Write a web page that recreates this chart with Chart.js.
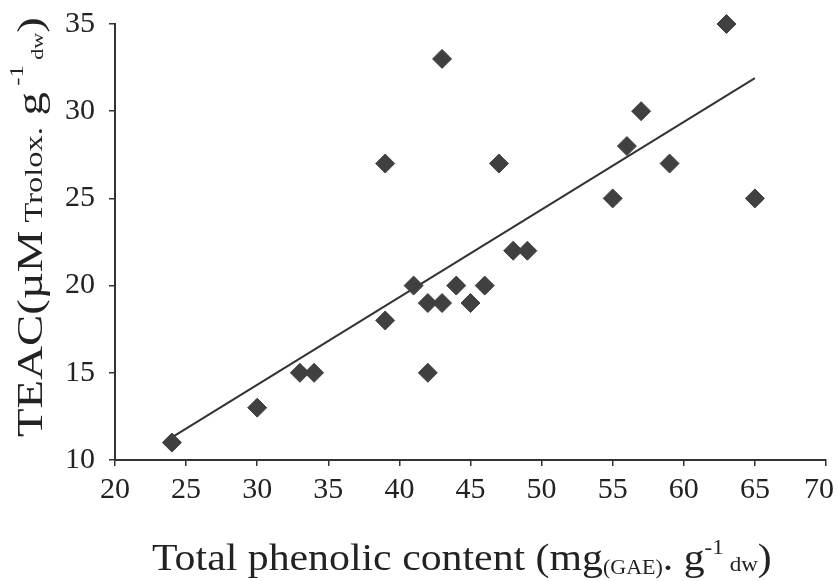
<!DOCTYPE html>
<html>
<head>
<meta charset="utf-8">
<script src="https://cdn.jsdelivr.net/npm/chart.js@4/dist/chart.umd.min.js"></script>
<style>
  html, body { margin: 0; padding: 0; background: #fff; }
  #wrap { width: 838px; height: 581px; position: relative; }
</style>
</head>
<body>
<div id="wrap"><canvas id="c" width="838" height="581"></canvas></div>
<script>
// Total phenolic content (mg GAE / g dw) for each sample
const phenolic = [24, 30, 33, 34, 39, 39, 41, 42, 42, 43, 43, 44, 45, 46, 47, 48, 49, 55, 56, 57, 59, 63, 65];
// Antioxidant capacity, TEAC (µM Trolox / g dw) for the same samples
const teac = [11, 13, 15, 15, 18, 27, 20, 19, 15, 19, 33, 20, 19, 20, 27, 22, 22, 25, 28, 30, 27, 35, 25];
// Linear trend line end points
const trendX = [24, 65];
const trendY = [11.3, 31.9];
// Axis ticks
const xTicks = [20, 25, 30, 35, 40, 45, 50, 55, 60, 65, 70];
const yTicks = [10, 15, 20, 25, 30, 35];

const SERIF = '"Liberation Serif", "Times New Roman", serif';
const INK = '#222';
const AXIS = '#333';
const MARK = '#404040';

// Axis titles with sub- and superscripts
const xTitle = [
  { t: 'Total phenolic content (mg', size: 38, dy: 0 },
  { t: '(GAE)', size: 20, dy: 4 },
  { t: '. g', size: 38, dy: 0 },
  { t: '-1', size: 21, dy: -16 },
  { t: ' ', size: 21, dy: 0 },
  { t: 'dw', size: 21, dy: 1 },
  { t: ')', size: 38, dy: 0 }
];
const yTitle = [
  { t: 'TEAC(\u00B5M', size: 36, dy: 0 },
  { t: ' Trolox.', size: 25, dy: 0 },
  { t: ' g', size: 36, dy: 0 },
  { t: ' -1', size: 19, dy: -19 },
  { t: ' dw', size: 17, dy: 1 },
  { t: ')', size: 36, dy: 0 }
];

// Draws a run of text segments; sx stretches the run along its length
function drawRich(ctx, segs, x, y, sx) {
  ctx.save();
  ctx.translate(x, y);
  ctx.scale(sx, 1);
  let cx = 0;
  for (const s of segs) {
    ctx.font = s.size + 'px ' + SERIF;
    ctx.fillText(s.t, cx, s.dy);
    cx += ctx.measureText(s.t).width;
  }
  ctx.restore();
}

const richTitles = {
  id: 'richTitles',
  beforeDraw(chart) {
    // keep the last x label inside the canvas edge
    const items = chart.scales.x.getLabelItems();
    const last = items[items.length - 1];
    if (last && !last._shifted) {
      last.options.translation[0] -= 7;
      last._shifted = true;
    }
  },
  afterDraw(chart) {
    const ctx = chart.ctx;
    ctx.save();
    ctx.fillStyle = INK;
    ctx.textBaseline = 'alphabetic';
    ctx.textAlign = 'left';
    drawRich(ctx, xTitle, 152, 570, 1.1);
    ctx.translate(42, 437);
    ctx.rotate(-Math.PI / 2);
    drawRich(ctx, yTitle, 0, 0, 1.3);
    ctx.restore();
  }
};

const points = phenolic.map((x, i) => ({ x: x, y: teac[i] }));
const trend = trendX.map((x, i) => ({ x: x, y: trendY[i] }));

new Chart(document.getElementById('c'), {
  type: 'scatter',
  data: {
    datasets: [
      {
        type: 'line',
        data: trend,
        borderColor: AXIS,
        borderWidth: 2,
        pointRadius: 0,
        fill: false,
        order: 2
      },
      {
        data: points,
        pointStyle: 'rectRot',
        pointRadius: 9.5,
        pointHoverRadius: 9.5,
        backgroundColor: MARK,
        borderColor: MARK,
        borderWidth: 1,
        clip: false,
        order: 1
      }
    ]
  },
  options: {
    responsive: false,
    animation: false,
    layout: { padding: { top: 24, right: 12, left: 0, bottom: 0 } },
    plugins: {
      legend: { display: false },
      tooltip: { enabled: false }
    },
    scales: {
      x: {
        type: 'linear',
        min: 20,
        max: 70,
        afterBuildTicks: s => { s.ticks = xTicks.map(v => ({ value: v })); },
        afterFit: s => { s.height = 121; s.paddingLeft = 0; s.paddingRight = 0; },
        border: { display: true, color: AXIS, width: 2 },
        grid: { drawOnChartArea: false, drawTicks: true, tickLength: 6, color: AXIS, lineWidth: 1.5 },
        ticks: { color: INK, font: { family: SERIF, size: 30 }, padding: 6, maxRotation: 0 }
      },
      y: {
        type: 'linear',
        min: 10,
        max: 35,
        afterBuildTicks: s => { s.ticks = yTicks.map(v => ({ value: v })); },
        afterFit: s => { s.width = 115; s.paddingTop = 0; s.paddingBottom = 0; },
        border: { display: true, color: AXIS, width: 2 },
        grid: { drawOnChartArea: false, drawTicks: true, tickLength: 6, color: AXIS, lineWidth: 1.5 },
        ticks: { color: INK, font: { family: SERIF, size: 30 }, padding: 14 }
      }
    }
  },
  plugins: [richTitles]
});
</script>
</body>
</html>
